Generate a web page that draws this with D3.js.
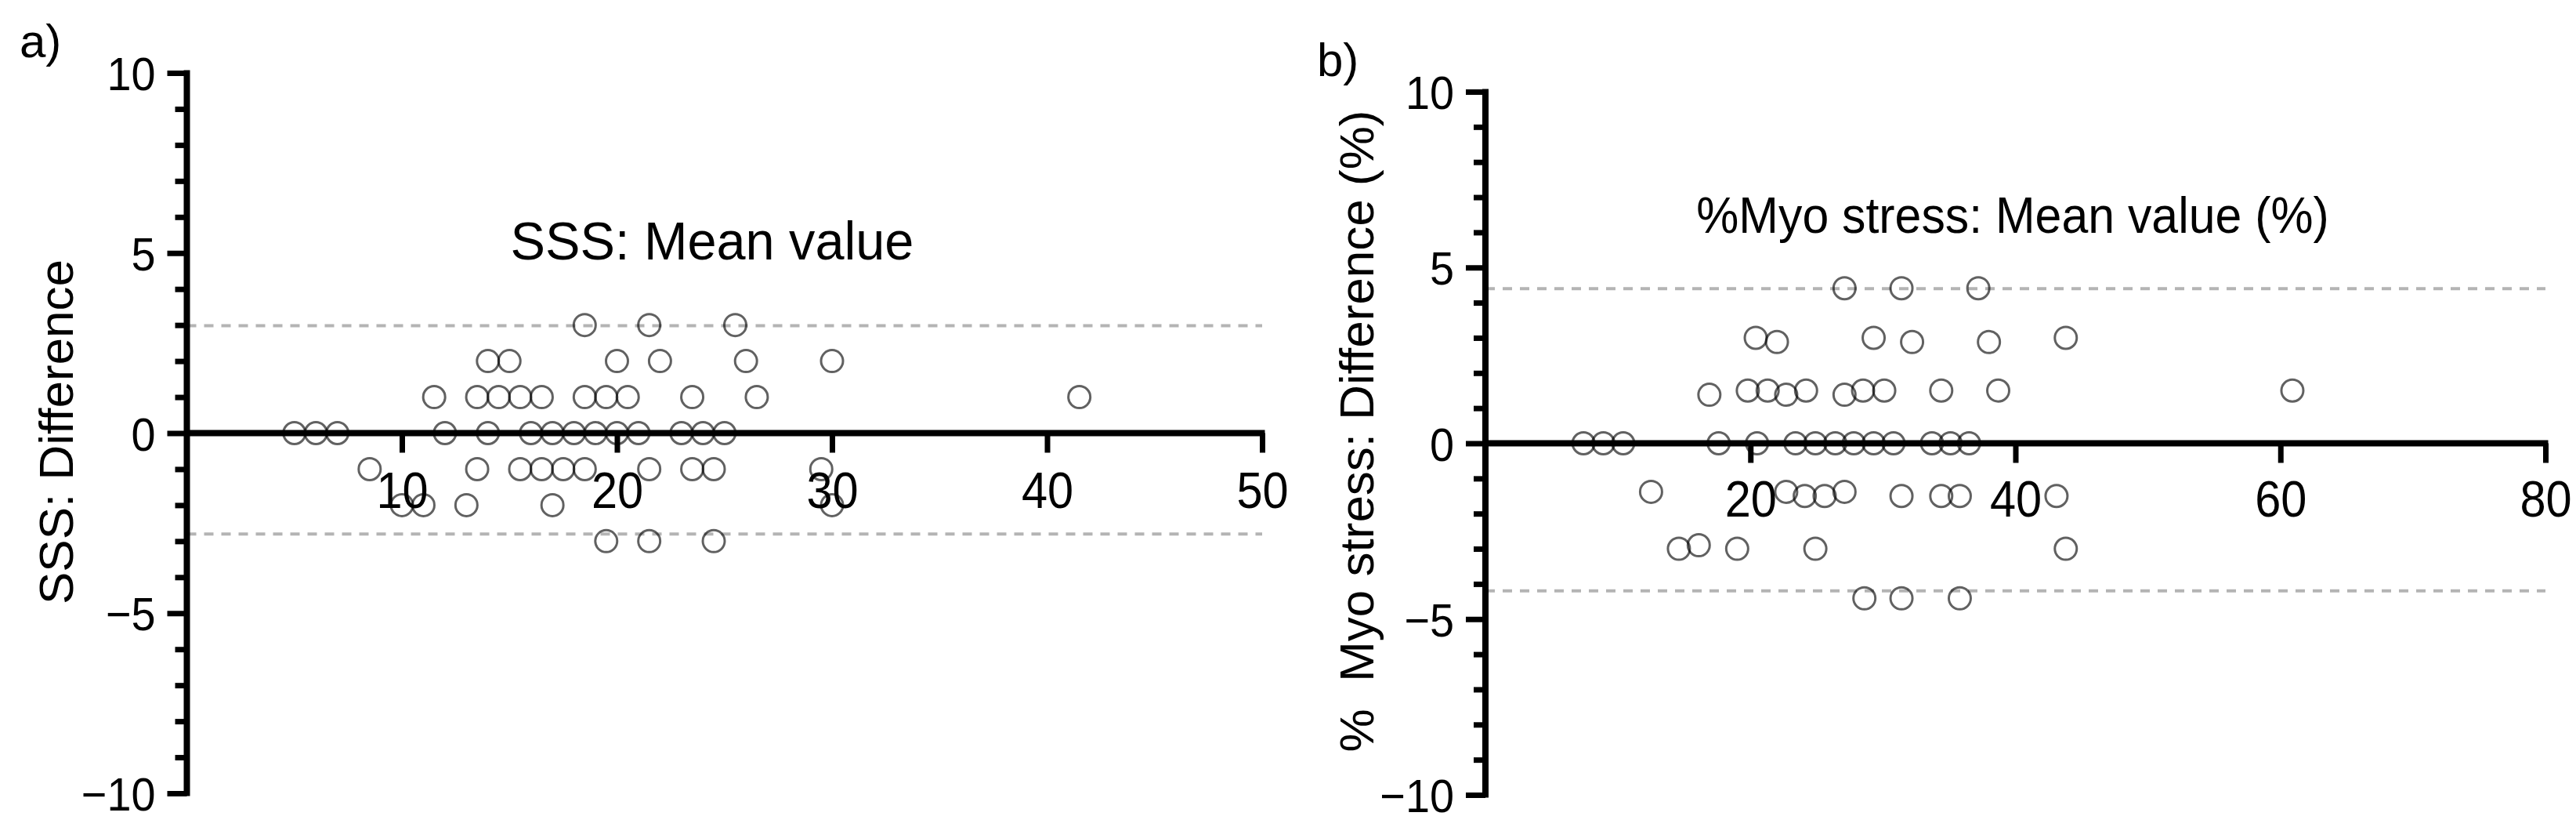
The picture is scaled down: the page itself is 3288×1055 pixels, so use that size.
<!DOCTYPE html>
<html>
<head>
<meta charset="utf-8">
<script src="https://cdn.jsdelivr.net/npm/d3@7"></script>
<style>
  html, body { margin: 0; padding: 0; background: #fff; }
  svg { display: block; }
  text { font-family: "Liberation Sans", Arial, sans-serif; fill: #000; }
</style>
</head>
<body>
<svg id="chart" width="3288" height="1055"></svg>
<script>
// ---------- Panel a: SSS ----------
const sssMean = [18.5, 21.5, 25.5,
  14, 15, 20, 22, 26, 30,
  11.5, 13.5, 14.5, 15.5, 16.5, 18.5, 19.5, 20.5, 23.5, 26.5, 41.5,
  5, 6, 7, 12, 14, 16, 17, 18, 19, 20, 21, 23, 24, 25,
  8.5, 13.5, 15.5, 16.5, 17.5, 18.5, 21.5, 23.5, 24.5, 29.5,
  10, 11, 13, 17, 30,
  19.5, 21.5, 24.5];
const sssDiff = [3, 3, 3,
  2, 2, 2, 2, 2, 2,
  1, 1, 1, 1, 1, 1, 1, 1, 1, 1, 1,
  0, 0, 0, 0, 0, 0, 0, 0, 0, 0, 0, 0, 0, 0,
  -1, -1, -1, -1, -1, -1, -1, -1, -1, -1,
  -2, -2, -2, -2, -2,
  -3, -3, -3];
const sssLimits = [2.98, -2.8];
const sssXTicks = [10, 20, 30, 40, 50];

// ---------- Panel b: %Myo stress ----------
const myoMean = [27.1, 31.4, 37.2,
  20.4, 29.3, 43.8,
  22.0, 32.2, 38.0,
  19.8, 21.3, 24.2, 28.5, 30.1, 34.4, 38.7, 60.9,
  16.9, 22.7, 27.1,
  7.4, 8.9, 10.4, 17.6, 20.5, 23.4, 24.9, 26.4, 27.8, 29.3, 30.8, 33.7, 35.1, 36.5,
  12.5, 22.7, 27.1,
  24.1, 25.6, 31.4, 34.4, 35.8, 43.1,
  16.1,
  14.6, 19.0, 24.9, 43.8,
  28.6, 31.4, 35.8];
const myoDiff = [4.41, 4.41, 4.41,
  3.0, 3.0, 3.0,
  2.88, 2.88, 2.88,
  1.5, 1.5, 1.5, 1.5, 1.5, 1.5, 1.5, 1.5,
  1.38, 1.38, 1.38,
  0, 0, 0, 0, 0, 0, 0, 0, 0, 0, 0, 0, 0, 0,
  -1.38, -1.38, -1.38,
  -1.5, -1.5, -1.5, -1.5, -1.5, -1.5,
  -2.9,
  -3.0, -3.0, -3.0, -3.0,
  -4.41, -4.41, -4.41];
const myoLimits = [4.4, -4.2];
const myoXTicks = [20, 40, 60, 80];

const yMajor = [-10, -5, 0, 5, 10];
const yMinor = [-9, -8, -7, -6, -4, -3, -2, -1, 1, 2, 3, 4, 6, 7, 8, 9];

const svg = d3.select("#chart");
svg.append("rect").attr("width", 3288).attr("height", 1055).attr("fill", "#fff");

const SX = 0.93; // slight horizontal condensation of the typeface

function fmt(v) { return v < 0 ? "\u2212" + Math.abs(v) : String(v); }

function panel(cfg) {
  const x = d3.scaleLinear().domain(cfg.xDomain).range(cfg.xRange);
  const y = d3.scaleLinear().domain([-10, 10]).range(cfg.yRange);
  const g = svg.append("g");

  // limits of agreement (dashed)
  g.selectAll("line.loa").data(cfg.limits).join("line")
    .attr("class", "loa")
    .attr("x1", x(0)).attr("x2", x(cfg.xDomain[1]))
    .attr("y1", d => y(d)).attr("y2", d => y(d))
    .attr("stroke", "#b4b4b4").attr("stroke-width", 4)
    .attr("stroke-dasharray", "12,10");

  // y axis minor ticks
  const yMin = g.append("g").attr("transform", `translate(${x(0)},0)`)
    .call(d3.axisLeft(y).tickValues(yMinor).tickSize(15).tickSizeOuter(0).tickFormat(""));
  yMin.select(".domain").remove();
  yMin.selectAll(".tick line").attr("stroke", "#000").attr("stroke-width", 7);

  // y axis major
  const yAx = g.append("g").attr("transform", `translate(${x(0)},0)`)
    .call(d3.axisLeft(y).tickValues(yMajor).tickSize(25).tickSizeOuter(0).tickFormat(fmt));
  yAx.select(".domain").attr("stroke", "#000").attr("stroke-width", 8)
    .attr("d", `M0,${y(10) - 3.5}V${y(-10) + 3.5}`);
  yAx.selectAll(".tick line").attr("stroke", "#000").attr("stroke-width", 7);
  yAx.selectAll(".tick text")
    .attr("x", null).attr("dy", "0.36em")
    .attr("transform", `translate(-40,0) scale(${SX},1)`)
    .attr("font-size", 60).attr("font-family", "Liberation Sans, Arial, sans-serif")
    .attr("fill", "#000").attr("text-anchor", "end");

  // x axis
  const xAx = g.append("g").attr("transform", `translate(0,${y(0)})`)
    .call(d3.axisBottom(x).tickValues(cfg.xTicks).tickSize(25).tickSizeOuter(0));
  xAx.select(".domain").attr("stroke", "#000").attr("stroke-width", 8)
    .attr("d", `M${x(0)},0H${x(cfg.xDomain[1]) + 3.5}`);
  xAx.selectAll(".tick line").attr("stroke", "#000").attr("stroke-width", 7);
  xAx.selectAll(".tick text")
    .attr("y", null).attr("dy", null)
    .attr("transform", `translate(0,${cfg.xLabelOffset}) scale(${SX},1)`)
    .attr("font-size", 64).attr("font-family", "Liberation Sans, Arial, sans-serif")
    .attr("fill", "#000");

  // points
  g.selectAll("circle.pt").data(cfg.mean.map((m, i) => [m, cfg.diff[i]])).join("circle")
    .attr("class", "pt")
    .attr("cx", d => x(d[0])).attr("cy", d => y(d[1]))
    .attr("r", 14)
    .attr("fill", "none").attr("stroke", "#000").attr("stroke-opacity", 0.62)
    .attr("stroke-width", 3);

  // in-plot title
  g.append("text")
    .attr("transform", `translate(${cfg.titleX},${cfg.titleY}) scale(${cfg.titleSX},1)`)
    .attr("text-anchor", "middle").attr("font-size", cfg.titleSize)
    .text(cfg.title);

  // y axis title
  g.append("text")
    .attr("transform", `translate(${cfg.yTitleX},${cfg.yTitleY}) rotate(-90)`)
    .attr("text-anchor", "middle").attr("font-size", 62)
    .style("white-space", "pre")
    .text(cfg.yTitle);

  // panel letter
  g.append("text")
    .attr("x", cfg.letterX).attr("y", cfg.letterY)
    .attr("font-size", 60)
    .text(cfg.letter);
}

panel({
  mean: sssMean, diff: sssDiff, limits: sssLimits, xTicks: sssXTicks,
  xDomain: [0, 50], xRange: [238.5, 1611], yRange: [1012, 93],
  xLabelOffset: 95,
  title: "SSS: Mean value", titleX: 909, titleY: 331, titleSize: 68, titleSX: 0.98,
  yTitle: "SSS: Difference", yTitleX: 93, yTitleY: 551,
  letter: "a)", letterX: 25, letterY: 73
});

panel({
  mean: myoMean, diff: myoDiff, limits: myoLimits, xTicks: myoXTicks,
  xDomain: [0, 80], xRange: [1896, 3249], yRange: [1014, 117],
  xLabelOffset: 93,
  title: "%Myo stress: Mean value (%)", titleX: 2569, titleY: 297, titleSize: 64, titleSX: 0.95,
  yTitle: "%  Myo stress: Difference (%)", yTitleX: 1753, yTitleY: 550,
  letter: "b)", letterX: 1681, letterY: 97
});
</script>
</body>
</html>
